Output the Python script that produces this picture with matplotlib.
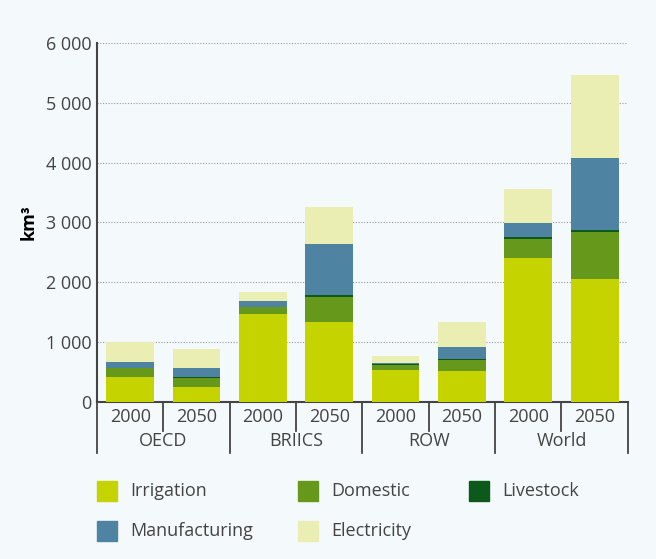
import matplotlib.pyplot as plt
from matplotlib.patches import Rectangle
import numpy as np

groups = ['OECD', 'BRIICS', 'ROW', 'World']
years = ['2000', '2050']
irrigation = [410, 245, 1465, 1330, 540, 510, 2400, 2060]
domestic = [150, 155, 115, 425, 70, 185, 320, 780]
livestock = [15, 20, 15, 35, 18, 15, 35, 40]
manufacturing = [85, 140, 100, 855, 27, 205, 240, 1200]
electricity = [335, 320, 135, 615, 105, 415, 570, 1380]

names = ['Irrigation', 'Domestic', 'Livestock', 'Manufacturing', 'Electricity']
colors = ['#c5d300', '#66981c', '#0b5a1c', '#4e84a2', '#eaeeb3']
series = [irrigation, domestic, livestock, manufacturing, electricity]

bg = '#f4f9fc'
txt = '#444444'
plt.rcParams['font.family'] = ['Open Sans', 'DejaVu Sans']

fig = plt.figure(figsize=(6.56, 5.59), dpi=100, facecolor=bg)
ax = fig.add_axes([0.148, 0.281, 0.809, 0.642], facecolor=bg)

x = np.arange(len(irrigation))
bottom = np.zeros(len(x))
for vals, c in zip(series, colors):
    ax.bar(x, vals, bottom=bottom, width=0.72, color=c, zorder=3)
    bottom += np.array(vals)

ax.set_xlim(-0.5, len(x) - 0.5)
ax.set_ylim(0, 6000)
ax.set_yticks(range(0, 6001, 1000))
ax.set_yticklabels(['0' if v == 0 else '{:,}'.format(v).replace(',', ' ') for v in range(0, 6001, 1000)],
                   fontsize=13, color=txt)
ax.yaxis.grid(True, linestyle=(0, (1, 1.5)), color='#999999', linewidth=0.8, zorder=0)
ax.tick_params(axis='y', length=0, pad=4)
ax.set_ylabel('km³', fontsize=13, fontweight='bold', color='black', labelpad=6)
for s in ['top', 'right']:
    ax.spines[s].set_visible(False)
ax.spines['left'].set_color('#444444')
ax.spines['bottom'].set_color('#444444')
ax.spines['left'].set_linewidth(1.5)
ax.spines['bottom'].set_linewidth(1.5)

ax.set_xticks([])
for i in range(len(x)):
    ax.text(i, -260, years[i % 2], ha='center', va='center', fontsize=13, color=txt)
for g, name in enumerate(groups):
    ax.text(2 * g + 0.5, -650, name, ha='center', va='center', fontsize=13, color=txt)
for k in range(len(x) + 1):
    ymin = -850 if k % 2 == 0 else -480
    ax.plot([k - 0.5, k - 0.5], [0, ymin], color='#444444', lw=1.3, clip_on=False)

# legend
rows = [0.121, 0.050]
cols = [0.148, 0.455, 0.715]
for i, (n, c) in enumerate(zip(names, colors)):
    r, cc = divmod(i, 3)
    y = 1 - (491 if r == 0 else 531) / 559
    fx = cols[cc]
    fig.patches.append(Rectangle((fx, y - 0.018), 0.03, 0.036, transform=fig.transFigure,
                                 color=c, figure=fig))
    fig.text(fx + 0.05, y, n, va='center', ha='left', fontsize=13, color=txt)

fig.savefig('out.png', dpi=100, facecolor=bg)
